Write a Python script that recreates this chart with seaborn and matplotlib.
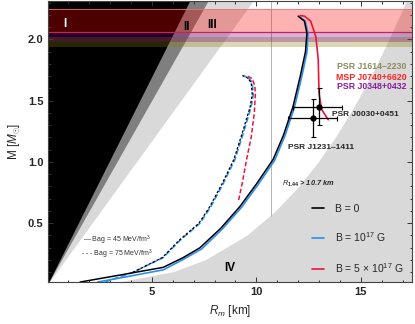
import numpy as np
import pandas as pd
import matplotlib
matplotlib.use("Agg")
import matplotlib.pyplot as plt
import seaborn as sns
from matplotlib.lines import Line2D

# Mass-radius curves (R in km, M in solar masses)
# Bag = 45 MeV/fm^3 (solid)
r_b0_bag45 = [1.56, 3.5, 5.54, 6.5, 7.3, 8.3, 9.21, 10.0, 10.8, 11.3, 11.75, 12.1, 12.35, 12.42, 12.3, 12.0]
m_b0_bag45 = [0.02, 0.078, 0.14, 0.22, 0.30, 0.46, 0.636, 0.82, 1.02, 1.22, 1.45, 1.7, 1.9, 2.05, 2.15, 2.19]
r_b17_bag45 = [2.4, 4.0, 5.55, 6.5, 7.38, 8.38, 9.29, 10.08, 10.88, 11.37, 11.82, 12.17, 12.42, 12.47, 12.34, 12.03]
m_b17_bag45 = [0.02, 0.07, 0.12, 0.205, 0.29, 0.455, 0.63, 0.815, 1.015, 1.215, 1.445, 1.695, 1.895, 2.05, 2.15, 2.19]
r_b5e17_bag45 = [13.44, 13.12, 13.0, 12.98, 12.96, 12.85, 12.6, 12.3, 12.1]
m_b5e17_bag45 = [1.345, 1.43, 1.56, 1.7, 1.84, 2.02, 2.15, 2.19, 2.195]
# Bag = 75 MeV/fm^3 (dashed)
r_b0_bag75 = [4.1, 5.5, 6.3, 7.25, 7.75, 8.35, 8.92, 9.35, 9.7, 9.8, 9.75, 9.55, 9.33]
m_b0_bag75 = [0.10, 0.22, 0.36, 0.50, 0.63, 0.82, 1.02, 1.25, 1.45, 1.55, 1.65, 1.69, 1.705]
r_b17_bag75 = [2.75, 4.1, 5.54, 6.34, 7.3, 7.8, 8.4, 8.97, 9.4, 9.75, 9.85, 9.8, 9.6, 9.37]
m_b17_bag75 = [0.02, 0.10, 0.22, 0.36, 0.50, 0.63, 0.82, 1.02, 1.25, 1.45, 1.55, 1.65, 1.69, 1.705]
r_b5e17_bag75 = [9.15, 9.35, 9.53, 9.75, 9.9, 9.95, 9.93, 9.8, 9.53]
m_b5e17_bag75 = [0.69, 0.85, 1.02, 1.2, 1.4, 1.55, 1.62, 1.68, 1.705]

# Forbidden regions: straight boundaries through the origin, top point at M = 2.35
m_wedge = [0.0, 2.35]
r_region_i = [0.0, 6.91]     # GR
r_region_ii = [0.0, 7.80]    # finite pressure
r_region_iii = [0.0, 9.99]   # causality
# Region IV (mass shedding) boundary
m_iv = [0.0, 0.02, 0.1, 0.2, 0.4, 0.6, 0.8, 1.0, 1.2, 1.4, 1.6, 1.8, 2.0, 2.2, 2.35]
r_iv = [0.0, 3.53, 6.03, 7.60, 9.58, 10.96, 12.07, 13.0, 13.81, 14.54, 15.20, 15.81, 16.38, 16.91, 17.29]

# Pulsar mass bands (lower, upper)
band_names = ['PSR J1614\u20132230', 'PSR J0348+0432', 'MSP J0740+6620']
band_lo = [1.94, 1.98, 2.06]
band_hi = [2.02, 2.06, 2.25]
band_colors = ['#808000', '#800080', '#ff0000']
band_text_colors = ['#8c8c5e', '#8a1c9c', '#ff2222']

# PSR J0030+0451 measurements
psr_r = [12.99, 12.69]
psr_m = [1.45, 1.355]
psr_r_lo = [1.23, 1.17]
psr_r_hi = [1.09, 1.15]
psr_m_lo = [0.145, 0.151]
psr_m_hi = [0.157, 0.16]

r_cut = 10.7
m_cut = 0.557

blue = '#2b8ef0'
red = '#e8163f'

sns.set_style("ticks")
plt.rcParams['font.family'] = ['Liberation Sans', 'DejaVu Sans']
plt.rcParams['mathtext.fontset'] = 'custom'
plt.rcParams['mathtext.rm'] = 'Liberation Sans'
plt.rcParams['mathtext.it'] = 'Liberation Sans:italic'
plt.rcParams['mathtext.bf'] = 'Liberation Sans:bold'

fig = plt.figure(figsize=(4.15, 3.24), dpi=100)
ax = fig.add_axes([0.1164, 0.1306, 0.8764, 0.8663])

# shaded regions
ax.fill_betweenx(m_iv, r_iv, 20, color='#d9d9d9', lw=0, zorder=0)
ax.fill_betweenx(m_wedge, 0, r_region_iii, color='#d9d9d9', lw=0, zorder=0)
ax.fill_betweenx(m_wedge, 0, r_region_ii, color='#7f7f7f', lw=0, zorder=0)
ax.fill_betweenx(m_wedge, 0, r_region_i, color='black', lw=0, zorder=0)
ax.plot([r_cut, r_cut], [m_cut, 2.4], color='#b5b5b5', lw=0.7, zorder=1)

# mass bands
for lo, hi, c in zip(band_lo, band_hi, band_colors):
    ax.axhspan(lo, hi, facecolor=c, alpha=0.3, lw=0, zorder=1)
ax.axhline(band_hi[2], color='#f07080', lw=0.6, zorder=1)
ax.axhline(band_lo[2], color='#c8205a', lw=0.9, zorder=1)

# curves
curves = [
    (r_b17_bag75, m_b17_bag75, blue, (0, (3.5, 1.5)), 1.2),
    (r_b0_bag75, m_b0_bag75, 'black', (0, (2.0, 1.5)), 0.9),
    (r_b5e17_bag75, m_b5e17_bag75, red, (0, (3.0, 1.5)), 1.1),
    (r_b17_bag45, m_b17_bag45, blue, '-', 1.2),
    (r_b0_bag45, m_b0_bag45, 'black', '-', 1.1),
    (r_b5e17_bag45, m_b5e17_bag45, red, '-', 1.2),
]
for r, m, c, ls, w in curves:
    df = pd.DataFrame({'R': r, 'M': m})
    sns.lineplot(data=df, x='R', y='M', sort=False, estimator=None,
                 color=c, lw=w, ax=ax, zorder=3).lines[-1].set_linestyle(ls)

# pulsar points
ax.errorbar(psr_r, psr_m, xerr=[psr_r_lo, psr_r_hi], yerr=[psr_m_lo, psr_m_hi],
            fmt='o', color='black', ms=3.5, lw=0.9, capsize=1.8, capthick=0.8, zorder=4)

# labels
ax.text(0.84, 2.13, 'I', color='white', fontsize=8.5, fontweight='bold', ha='center', va='center')
ax.text(6.67, 2.10, 'II', color='black', fontsize=8.5, fontweight='bold', ha='center', va='center')
ax.text(7.87, 2.12, 'III', color='black', fontsize=8.5, fontweight='bold', ha='center', va='center')
ax.text(8.73, 0.135, 'IV', color='black', fontsize=8.5, fontweight='bold', ha='center', va='center')

band_text_m = [1.778, 1.615, 1.686]
for name, tc, tm in zip(band_names, band_text_colors, band_text_m):
    ax.text(17.2, tm, name, color=tc, fontsize=6.3, fontweight='bold', ha='right', va='center')

ax.text(13.6, 1.39, 'PSR J0030+0451', fontsize=6, fontweight='bold', ha='left', va='center')
ax.text(11.49, 1.117, 'PSR J1231\u20131411', fontsize=6, fontweight='bold', ha='left', va='center')
ax.text(11.22, 0.818, r'$\mathbf{\mathit{R}_{1.44}}$ > 10.7 km', fontsize=5.3, fontweight='bold',
        fontstyle='italic', ha='left', va='center')

ax.text(1.7, 0.363, '\u2014 Bag = 45 MeV/fm$^3$', fontsize=5, color='#333333', ha='left', va='center')
ax.text(1.6, 0.249, '- - - Bag = 75 MeV/fm$^3$', fontsize=5, color='#333333', ha='left', va='center')

handles = [Line2D([], [], color='black', lw=1.2),
           Line2D([], [], color=blue, lw=1.2),
           Line2D([], [], color=red, lw=1.2)]
labels = ['B = 0', r'B = 10$^{17}$ G', r'B = 5 $\times$ 10$^{17}$ G']
ax.legend(handles, labels, loc='upper left', bbox_to_anchor=(0.725, 0.278), frameon=False,
          fontsize=7.5, handlelength=1.2, handletextpad=1.0, labelspacing=1.6,
          borderpad=0, borderaxespad=0)

ax.set_xlim(0.04, 17.45)
ax.set_ylim(0.023, 2.314)
ax.set_xticks([5, 10, 15])
ax.set_yticks([0.5, 1.0, 1.5, 2.0])
ax.set_xticks(np.arange(1, 18, 1), minor=True)
ax.set_yticks(np.arange(0.1, 2.31, 0.1), minor=True)
ax.tick_params(which='both', direction='in', top=True, right=True, width=0.7, color='#333333')
ax.tick_params(which='major', length=3.5, labelsize=8)
ax.tick_params(which='minor', length=1.8)
for lab in ax.get_xticklabels() + ax.get_yticklabels():
    lab.set_fontweight('bold')
for s in ax.spines.values():
    s.set_linewidth(0.8)
    s.set_color('#444444')

ax.set_xlabel(r'$R_m$ [km]', fontsize=8.5, labelpad=5)
ax.set_ylabel(r'M [$M_{\odot}$]', fontsize=8.5, labelpad=4)

fig.savefig('out.png', dpi=100)
